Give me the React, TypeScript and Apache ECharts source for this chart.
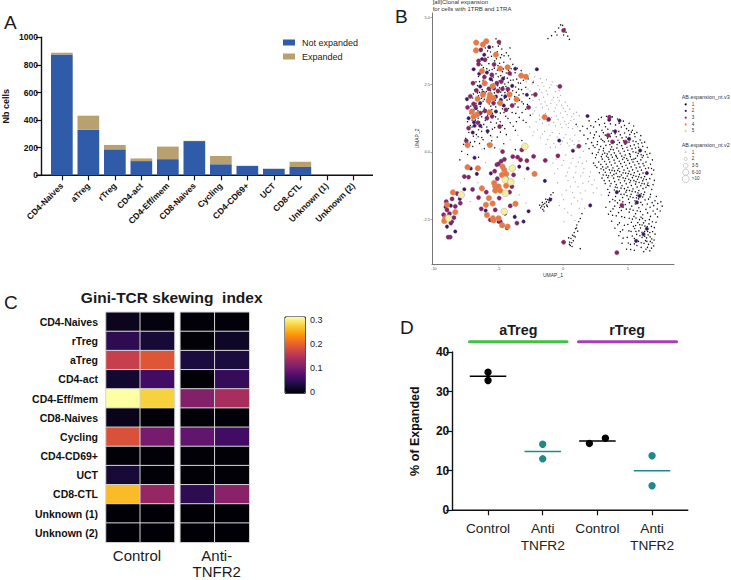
import React, { useEffect, useRef } from "react";
import * as echarts from "echarts";

const FONT = "'Liberation Sans', Arial, sans-serif";

// Panel A
const cellTypesA = ["CD4-Naives","aTreg","rTreg","CD4-act","CD4-Eff/mem","CD8-Naives","Cycling","CD4-CD69+","UCT","CD8-CTL","Unknown (1)","Unknown (2)"];
const notExpanded = [875,330,188,103,117,248,80,68,47,60,0,0];
const expanded = [13,102,32,19,91,2,60,2,1,38,0,0];

// Panel C
const cellTypesC = ["CD4-Naives","rTreg","aTreg","CD4-act","CD4-Eff/mem","CD8-Naives","Cycling","CD4-CD69+","UCT","CD8-CTL","Unknown (1)","Unknown (2)"];
const giniControl = [[0.015,0.005],[0.05,0.03],[0.17,0.195],[0.025,0.065],[0.32,0.285],[0.012,0.002],[0.19,0.105],[0.002,0.002],[0.03,0.002],[0.27,0.13],[0.001,0.001],[0.001,0.001]];
const giniAnti = [[0.003,0.003],[0.002,0.02],[0.035,0.035],[0.002,0.055],[0.115,0.145],[0.002,0.002],[0.09,0.065],[0.002,0.002],[0.002,0.002],[0.05,0.12],[0.001,0.001],[0.001,0.001]];
const inferno = ["#000004","#1b0c41","#4a0c6b","#781c6d","#a52c60","#cf4446","#ed6925","#fb9b06","#f7d13d","#fcffa4"];
const colorbarTicks = [0,0.1,0.2,0.3];

// Panel D
const groupsD = ["Control","Anti\nTNFR2","Control","Anti\nTNFR2"];
const dControl = [[0,34.9],[0,32.8]];
const dControlLeft = [[2,16.9]];
const dControlRight = [[2,18.2]];
const dAnti = [[1,16.7],[1,13],[3,13.8],[3,6.2]];
const dControlMean = [[0,33.9],[2,17.5]];
const dAntiMean = [[1,14.85],[3,10]];

// Panel B, UMAP coordinates, by clone-size class
const umap5 = [[-2.96,0.2],[-3.94,-0.61],[-4.48,-1.04],[-4.05,-1.12],[-4.48,-1.54],[-7.89,-1.6],[-4.56,-2.22],[-8.87,-2.47]];
const umap4 = [[-6.73,4.06],[-5.95,4.11],[-6.21,3.99],[-6.75,3.77],[-5.21,3.61],[-6.29,3.0],[-4.87,3.09],[-4.30,3.14],[-3.25,2.83],[-2.89,2.79],[-6.08,2.55],[-5.44,2.43],[-6.21,2.12],[-5.67,2.12],[-6.62,1.97],[-5.70,2.0],[-5.39,2.0],[-5.77,1.90],[-4.87,1.81],[-4.15,2.13],[-3.61,1.95],[-7.06,1.5],[-6.68,1.38],[-6.93,1.31],[-5.70,1.47],[-1.44,1.29],[-7.40,0.25],[-5.67,0.25],[-7.40,-0.57],[-6.60,-0.61],[-4.69,-0.55],[-4.56,-0.67],[-4.74,-0.86],[-4.41,-0.82],[-2.22,-0.82],[-5.34,-1.16],[-5.26,-1.29],[-5.26,-1.44],[-5.0,-1.29],[-4.41,-1.26],[-6.29,-1.36],[-4.87,-1.44],[-5.75,-1.72],[-5.98,-1.97],[-5.46,-1.92],[-3.69,-1.93],[-8.53,-1.51],[-8.99,-1.97],[-8.35,-2.24],[-9.2,-2.57],[-9.12,-2.47],[-5.9,-2.35],[-5.44,-2.47],[-5.39,-2.55],[-5.0,-2.47],[-4.72,-2.73],[-4.30,-2.78]];
const umap3 = [[0.03,4.51],[-4.97,4.08],[-6.37,3.79],[-6.55,3.38],[-6.55,3.26],[-0.26,2.43],[-6.98,2.55],[-7.19,2.06],[-7.40,1.65],[-6.80,1.69],[-5.9,1.25],[-7.32,0.88],[-4.92,0.94],[-7.5,0.41],[-1.13,1.21],[3.58,1.29],[3.48,0.61],[3.81,0.37],[4.82,0.36],[1.21,0.21],[-3.2,0.07],[-2.16,2.13],[-2.68,1.65],[-4.43,1.56],[-4.28,2.33],[-4.79,2.61],[-5.13,2.55],[-4.15,2.92],[-5.52,2.86],[-6.42,1.44],[-6.93,1.78],[-5.39,1.81],[-4.69,0.01],[-3.53,-0.2],[-2.81,-0.33],[-2.29,-0.17],[-1.39,-0.32],[-0.41,-0.15],[-5.13,-0.48],[-7.65,-0.92],[-7.32,-0.94],[-7.01,-1.4],[-5.95,-1.5],[-3.84,-0.86],[-3.97,-1.29],[-7.96,-1.91],[-8.35,-2.03],[-8.99,-2.16],[-9.25,-2.34],[-8.69,-2.65],[-8.74,-3.17],[-6.34,-2.12],[-5.26,-2.16],[-4.1,-2.01],[-5.64,-2.53],[-4.87,-2.59],[-3.58,-2.65],[0.03,-3.36],[4.54,-1.99],[4.15,-3.75],[-5.0,-0.45],[-4.8,-0.35],[-4.4,-1.0],[-5.1,-1.0],[-4.0,-1.1],[-3.3,-0.3],[-8.6,-1.75],[-8.8,-2.3],[-8.9,-3.17],[-6.1,2.78],[-5.75,2.34],[-5.05,2.26],[-6.72,2.28],[-6.05,1.52],[-5.5,1.32],[-6.6,1.08],[-4.7,2.34],[-3.95,1.72],[-6.05,3.42],[-5.35,3.25],[-4.55,-0.28],[-3.9,-0.18],[-5.3,-0.72],[-4.15,-1.5],[-8.2,-1.55],[-9.05,-1.85],[-8.45,-2.45],[-6.55,-1.7],[-4.95,-1.72]];
const umap2 = [[-6.11,3.61],[-5.72,3.89],[-6.93,3.07],[-3.71,3.09],[-2.04,3.07],[-6.42,2.43],[-7.45,1.96],[-6.42,1.81],[-7.32,1.25],[-4.82,1.93],[-4.48,2.06],[-2.81,2.12],[-6.42,0.97],[-6.86,0.97],[-5.85,0.77],[-0.31,0.42],[1.88,1.33],[4.02,0.76],[5.10,0.48],[3.56,1.19],[4.36,1.16],[-6.86,-0.22],[0.75,0.04],[-6.68,-0.82],[-7.65,-1.39],[-1.42,-1.08],[-1.01,-1.78],[2.09,-1.99],[4.15,-1.5],[5.70,-1.88],[5.9,-1.64],[6.47,-0.79],[6.47,-2.86],[6.21,-3.06],[5.64,-3.31],[-2.68,-2.21],[-3.07,-2.59],[-8.35,-2.96],[-8.99,-2.78],[-4.36,-2.84],[5.95,0.05],[-6.5,2.9],[-5.6,2.7],[-6.2,2.2],[-5.2,2.05],[-6.9,1.1],[-5.2,1.5],[-8.7,-2.0],[-8.0,-1.75],[-8.6,-2.6],[-5.0,-2.6],[-4.5,-2.3],[-6.28,3.45],[-5.9,2.95],[-4.65,2.72],[-3.95,2.45],[-5.35,2.36],[-6.75,1.62],[-4.6,1.72],[-7.0,0.72],[-3.4,-0.55],[-2.75,-0.62],[-5.6,-0.8],[-7.15,-0.62],[-6.0,-2.18],[-3.75,-2.42],[-9.1,-2.05]];
const umap1Flat = [
-1.18,4.21,-0.9,4.32,-0.62,4.46,-0.35,4.6,-0.2,4.72,-0.05,4.7,0.12,4.58,0.22,4.44,0.35,4.3,0.48,4.18,
-5.2,4.2,-4.9,4.0,-5.45,3.9,-4.75,3.82,-5.85,3.75,-5.1,3.72,-4.4,3.68,-5.55,3.55,-4.85,3.5,-6.0,3.46,-4.1,3.45,-5.3,3.38,-4.6,3.33,-5.75,3.28,-3.9,3.25,-5.05,3.2,-4.45,3.15,-6.3,3.22,-3.55,3.1,-5.5,3.06,-4.7,2.98,-5.95,2.94,-3.25,3.02,-5.2,2.9,-4.05,2.86,-6.55,2.8,-4.55,2.78,-5.7,2.73,-3.6,2.7,-6.2,2.66,-4.95,2.64,-4.25,2.58,-6.75,2.6,-3.3,2.55,-5.4,2.52,-3.9,2.47,-6.4,2.44,-4.65,2.42,-5.85,2.36,-2.9,2.4,-3.45,2.33,-6.85,2.3,-5.1,2.28,-4.3,2.24,-6.05,2.18,-3.1,2.16,-4.75,2.1,-6.55,2.08,-3.75,2.05,-5.5,2.0,-7.0,2.0,-2.6,1.98,-4.35,1.92,-6.2,1.88,-3.2,1.86,-5.05,1.82,-6.75,1.8,-4.0,1.76,-5.6,1.7,-7.15,1.7,-3.5,1.66,-6.1,1.62,-4.7,1.6,-2.9,1.58,-6.6,1.52,-5.3,1.5,-3.95,1.46,-7.2,1.42,-5.85,1.36,-4.45,1.32,-6.3,1.3,-3.4,1.28,-5.05,1.22,-6.8,1.18,-7.4,1.12,-5.6,1.1,-4.1,1.08,-6.15,1.02,-4.7,0.98,-7.05,0.92,-5.3,0.9,-6.55,0.82,-3.7,0.8,-7.3,0.72,-5.85,0.7,-4.4,0.64,-6.95,0.58,-5.1,0.55,-7.55,0.5,-6.2,0.45,-3.2,0.42,-7.7,0.28,-4.6,0.3,-7.0,0.2,-6.1,0.12,-5.3,0.15,-7.85,0.02,-3.7,0.08,-7.4,-0.1,-6.55,-0.2,-8.0,-0.3,
-5.62,3.71,-5.02,3.93,-4.58,3.57,-5.91,3.09,-5.33,3.11,-4.92,3.29,-4.23,3.03,-6.12,2.83,-5.57,2.91,-4.83,2.83,-4.41,2.93,-6.47,2.61,-5.21,2.59,-5.61,2.47,-4.07,2.66,-4.52,2.52,-6.63,2.19,-6.27,2.31,-4.93,2.38,-3.68,2.41,-5.32,2.19,-4.12,2.18,-3.42,2.11,-5.83,2.03,-6.33,1.99,-4.55,1.99,-5.22,1.67,-4.86,1.44,-6.92,1.56,-6.42,1.68,-5.52,1.57,-4.23,1.61,-3.08,1.78,-6.47,1.11,-5.17,1.07,-5.91,0.92,-4.86,0.73,-6.72,0.64,-6.31,0.76,-5.53,0.41,-7.18,0.35,-6.47,0.31,
-0.48,4.34,0.03,4.34,-4.12,3.86,-3.33,2.87,-3.08,2.66,-2.72,2.71,-2.33,2.58,-2.42,2.12,-2.77,1.76,-3.18,1.46,-3.62,1.12,-2.88,1.09,-2.55,1.36,
1.0,1.02,1.5,0.95,2.0,1.15,2.5,1.12,2.95,1.28,3.35,1.32,3.8,1.3,4.2,1.22,4.65,1.14,5.1,1.06,5.45,0.96,1.3,0.78,1.85,0.86,2.35,0.92,2.8,1.0,3.2,1.06,3.65,1.04,4.05,1.0,4.5,0.92,4.9,0.86,5.35,0.8,5.7,0.72,6.0,0.6,1.6,0.62,2.1,0.7,2.55,0.74,3.0,0.8,3.45,0.84,3.85,0.78,4.3,0.76,4.75,0.7,5.15,0.64,5.55,0.56,5.95,0.44,6.3,0.36,1.9,0.48,2.35,0.52,2.8,0.58,3.25,0.62,3.65,0.56,4.1,0.56,4.55,0.52,5.0,0.48,5.4,0.4,5.8,0.3,6.15,0.2,6.5,0.16,1.75,0.3,2.2,0.34,2.65,0.38,3.05,0.42,3.5,0.4,3.95,0.36,4.35,0.34,4.8,0.28,5.2,0.22,5.6,0.14,6.0,0.06,6.35,0.0,6.7,-0.06,2.0,0.12,2.45,0.16,2.9,0.2,3.3,0.24,3.75,0.18,4.15,0.14,4.6,0.12,5.0,0.06,5.4,0.0,5.8,-0.06,6.2,-0.14,6.55,-0.2,6.9,-0.3,2.25,-0.06,2.7,-0.02,3.1,0.04,3.55,0.0,3.95,-0.04,4.4,-0.06,4.8,-0.12,5.2,-0.18,5.6,-0.24,6.0,-0.3,6.4,-0.38,6.75,-0.46,2.5,-0.22,2.95,-0.18,3.35,-0.16,3.8,-0.2,4.2,-0.24,4.6,-0.28,5.0,-0.32,5.4,-0.38,5.85,-0.44,6.25,-0.52,6.6,-0.6,7.0,-0.68,2.35,-0.42,2.75,-0.38,3.2,-0.36,3.6,-0.38,4.0,-0.42,4.45,-0.44,4.85,-0.5,5.25,-0.56,5.65,-0.6,6.05,-0.68,6.45,-0.76,6.85,-0.84,2.6,-0.58,3.05,-0.56,3.45,-0.56,3.85,-0.6,4.3,-0.62,4.7,-0.68,5.1,-0.72,5.5,-0.78,5.9,-0.84,6.3,-0.92,6.7,-1.0,7.05,-1.06,2.8,-0.78,3.25,-0.76,3.65,-0.78,4.1,-0.8,4.5,-0.86,4.95,-0.9,5.35,-0.96,5.75,-1.02,6.15,-1.08,6.55,-1.16,6.95,-1.22,3.0,-0.98,3.45,-0.96,3.9,-0.98,4.3,-1.04,4.75,-1.08,5.15,-1.14,5.6,-1.2,6.0,-1.26,6.4,-1.32,6.85,-1.4,3.25,-1.18,3.7,-1.18,4.1,-1.22,4.55,-1.26,5.0,-1.32,5.4,-1.38,5.85,-1.44,6.3,-1.5,6.75,-1.58,7.2,-1.66,3.45,-1.4,3.95,-1.42,4.35,-1.46,4.85,-1.5,5.25,-1.58,5.7,-1.62,6.15,-1.68,6.6,-1.76,7.1,-1.82,7.55,-1.86,3.5,-1.62,4.05,-1.66,4.6,-1.7,5.05,-1.76,5.55,-1.82,6.0,-1.88,6.5,-1.94,7.0,-2.0,7.65,-2.02,3.6,-1.86,4.2,-1.9,4.8,-1.96,5.3,-2.02,5.85,-2.08,6.4,-2.14,6.95,-2.2,7.5,-2.2,3.3,-2.06,3.85,-2.12,4.5,-2.18,5.1,-2.24,5.6,-2.3,6.15,-2.34,6.75,-2.4,7.3,-2.42,3.5,-2.32,4.1,-2.38,4.75,-2.44,5.35,-2.5,5.9,-2.52,6.35,-2.56,6.9,-2.6,3.75,-2.58,4.35,-2.64,5.0,-2.7,5.6,-2.74,6.1,-2.72,6.5,-2.78,7.05,-2.82,4.0,-2.84,4.6,-2.9,5.25,-2.96,5.85,-2.94,6.3,-2.96,6.7,-3.0,7.1,-3.06,4.3,-3.12,4.95,-3.18,5.5,-3.22,6.1,-3.18,6.45,-3.2,6.85,-3.24,4.55,-3.4,5.2,-3.44,5.7,-3.48,6.25,-3.4,6.6,-3.44,7.0,-3.5,4.9,-3.62,5.5,-3.66,6.4,-3.62,6.7,-3.68,
3.27,0.93,3.72,0.69,4.41,0.63,4.87,0.55,5.27,0.73,5.63,0.38,4.23,0.43,3.43,0.51,2.63,0.27,3.12,0.13,3.87,0.08,4.52,0.23,4.93,0.17,5.32,0.11,5.74,-0.15,3.41,-0.08,4.07,-0.13,4.71,-0.21,5.12,-0.07,5.47,-0.27,6.11,-0.21,3.02,-0.27,3.53,-0.28,3.93,-0.31,4.33,-0.35,4.74,-0.39,5.13,-0.43,5.53,-0.49,5.93,-0.57,6.37,-0.62,2.91,-0.47,3.33,-0.46,3.73,-0.49,4.17,-0.53,4.57,-0.55,4.97,-0.61,5.37,-0.67,5.77,-0.72,6.17,-0.79,3.13,-0.67,3.57,-0.67,3.97,-0.71,4.37,-0.74,4.83,-0.79,5.23,-0.84,5.63,-0.91,6.03,-0.96,6.43,-1.03,3.34,-0.87,3.78,-0.89,4.22,-0.92,4.63,-0.97,5.07,-1.02,5.47,-1.07,5.87,-1.14,6.27,-1.19,3.57,-1.08,3.98,-1.11,4.42,-1.15,4.87,-1.19,5.27,-1.25,5.72,-1.31,6.17,-1.37,4.17,-1.33,4.73,-1.37,5.13,-1.44,5.57,-1.49,6.03,-1.56,4.47,-1.58,4.93,-1.63,5.4,-1.7,5.83,-1.75,3.83,-1.77,4.37,-1.8,4.63,-2.06,5.17,-2.13,5.72,-2.19,3.67,-2.21,4.28,-2.26,5.47,-2.4,6.02,-2.43,5.27,-2.62,5.77,-2.63,6.22,-2.64,6.63,-2.68,5.53,-2.85,5.98,-2.83,6.43,-2.87,5.68,-3.07,6.2,-3.07,6.57,-3.09,5.82,-3.33,6.37,-3.3,6.73,-3.33,
-0.78,-1.52,-0.95,-1.6,-1.05,-1.72,-1.2,-1.78,-1.3,-1.86,-1.42,-1.92,-1.55,-1.96,-1.66,-2.02,-1.74,-2.08,-1.58,-2.14,-1.46,-2.05,-1.28,-1.98,-1.12,-1.88,-0.9,-1.74,-1.5,-2.2,-1.35,-1.76,-1.62,-1.88,-1.82,-1.98,-1.23,-2.03,
1.45,-2.3,1.32,-2.48,1.2,-2.6,1.05,-2.72,0.95,-2.86,0.85,-3.0,0.72,-3.1,0.6,-3.22,0.5,-3.36,0.55,-3.48,0.68,-3.52,0.78,-3.3,0.92,-3.16,1.12,-2.95,0.42,-3.2,1.32,-3.6,0.66,-3.38,0.83,-3.13,1.03,-2.83,0.48,-3.44
];
const umap1Extra = [
2.14,0.97,2.73,1.21,3.11,0.71,3.58,1.17,4.33,1.06,4.74,0.98,5.06,0.79,5.51,0.67,5.83,0.17,2.42,0.63,2.93,0.47,3.17,0.37,3.61,0.27,4.02,0.67,4.17,0.27,4.66,0.41,5.09,0.36,5.49,0.26,6.08,0.33,2.32,0.23,2.77,0.08,3.21,-0.05,3.67,0.09,4.29,0.03,4.72,0.02,5.17,-0.1,5.62,-0.02,6.03,-0.11,6.47,-0.1,2.57,-0.11,3.03,-0.09,3.47,-0.21,3.71,-0.11,4.11,-0.18,4.52,-0.16,4.91,-0.25,5.31,-0.29,5.73,-0.36,6.17,-0.44,6.83,-0.62,2.47,-0.51,2.92,-0.63,3.31,-0.61,3.77,-0.69,4.21,-0.69,4.63,-0.78,5.03,-0.81,5.44,-0.88,5.83,-0.93,6.21,-1.01,6.62,-1.26,3.09,-0.86,3.51,-0.89,3.92,-0.84,4.38,-0.93,4.82,-0.99,5.21,-1.07,5.63,-1.11,6.09,-1.18,6.51,-1.24,3.17,-1.07,3.62,-1.27,4.03,-1.31,4.47,-1.35,4.91,-1.43,5.33,-1.47,5.78,-1.53,6.23,-1.59,6.71,-1.68,3.58,-1.51,4.12,-1.54,4.71,-1.58,5.18,-1.67,5.66,-1.71,6.33,-1.79,6.88,-1.89,7.31,-1.92,4.01,-1.82,4.61,-1.86,5.12,-1.89,5.57,-1.94,6.13,-1.97,6.72,-2.06,7.27,-2.13,3.98,-2.02,4.37,-2.07,4.88,-2.13,5.41,-2.17,5.97,-2.22,6.53,-2.27,7.12,-2.31,3.82,-2.36,4.53,-2.41,5.11,-2.47,5.63,-2.46,6.14,-2.48,6.66,-2.52,7.18,-2.62,4.22,-2.71,4.73,-2.73,5.43,-2.77,5.92,-2.71,6.32,-2.76,6.83,-2.77,4.42,-2.97,5.08,-2.94,5.62,-2.96,6.09,-2.99,6.53,-2.96,6.92,-2.97,4.63,-3.21,5.34,-3.13,5.93,-3.12,6.31,-3.14,6.72,-3.16,7.03,-3.28,5.03,-3.39,5.51,-3.42,6.03,-3.38,6.47,-3.33,6.87,-3.38,5.22,-3.63,6.03,-3.55,6.52,-3.55,6.83,-3.58,6.23,-3.71,
-6.03,3.86,-5.32,3.62,-4.76,3.61,-4.23,3.57,-5.82,3.51,-5.17,3.46,-6.17,3.13,-5.72,3.03,-5.09,3.04,-4.62,3.08,-4.03,3.09,-3.72,2.94,-6.37,2.94,-5.41,2.78,-5.03,2.79,-4.33,2.74,-3.87,2.67,-3.47,2.56,-6.63,2.46,-5.93,2.57,-5.47,2.64,-5.07,2.46,-4.43,2.43,-3.63,2.21,-3.22,2.31,-6.47,2.21,-5.95,2.24,-5.62,2.27,-4.83,2.22,-4.51,2.2,-3.91,2.27,-6.95,2.15,-6.1,1.95,-5.25,1.92,-4.15,1.96,-3.38,1.92,-6.52,1.77,-5.73,1.78,-4.76,1.78,-3.73,1.78,-7.03,1.77,-6.23,1.49,-5.47,1.43,-4.58,1.46,-3.67,1.43,-3.1,1.17,-6.58,1.25,-5.23,1.3,-4.27,1.24,-7.05,1.18,-6.03,1.17,-4.87,1.12,-3.87,0.95,-7.18,0.98,-6.3,0.91,-5.48,0.84,-4.52,0.86,-6.58,0.56,-5.62,0.6,-6.85,0.38,-6.3,0.53,-7.42,0.36,-5.85,0.28
];
const umapFaintFlat = [
-2.6,2.9,-2.2,2.78,-1.75,2.72,-1.3,2.68,-0.85,2.6,-0.5,2.46,-2.85,2.6,-2.4,2.52,-1.95,2.46,-1.5,2.44,-1.05,2.38,-0.6,2.24,-0.2,2.1,-2.55,2.26,-2.1,2.2,-1.65,2.2,-1.2,2.14,-0.75,2.02,-0.3,1.9,0.15,1.84,-2.35,1.92,-1.85,1.94,-1.4,1.86,-0.95,1.8,-0.5,1.74,0.0,1.62,0.5,1.58,-2.1,1.66,-1.6,1.64,-1.15,1.58,-0.7,1.5,-0.2,1.44,0.3,1.38,0.8,1.42,1.25,1.34,-2.35,1.42,-1.85,1.36,-0.9,1.28,-0.4,1.2,0.1,1.14,0.6,1.16,-2.1,1.12,-1.6,1.06,-1.1,1.0,-0.6,0.96,-0.1,0.9,0.4,0.9,0.9,0.62,-2.6,0.92,-2.0,0.82,-1.45,0.76,-0.85,0.72,-0.3,0.68,0.2,0.64,0.7,0.4,1.2,0.4,-2.35,0.6,-1.75,0.52,-1.2,0.46,-0.6,0.18,-0.05,0.4,0.45,0.22,1.0,0.14,1.55,0.02,-1.0,0.16,-0.3,-0.1,0.2,-0.12,0.75,-0.25,1.3,-0.2,1.8,-0.35,-0.8,-0.42,-0.1,-0.5,0.45,-0.6,1.0,-0.55,1.6,-0.62,2.1,-0.75,-0.65,-0.8,0.2,-0.9,0.8,-0.95,1.35,-0.9,1.95,-1.1,2.4,-1.05,-0.45,-1.15,0.55,-1.3,1.15,-1.3,1.7,-1.45,2.6,-1.35,-0.1,-1.6,0.85,-1.7,1.45,-1.75,2.95,-1.6,-0.3,-2.0,0.35,-2.25,1.25,-2.1,1.65,-2.1,0.05,-2.6,0.9,-2.55,-6.7,0.5,-6.3,0.1,-5.5,0.55,-4.9,0.1,-4.1,0.45,-3.5,0.62,-2.9,0.3,-6.0,-0.4,-3.0,-1.0,-3.4,-1.6,-2.9,-1.9,-6.6,-1.15,-7.2,-1.85,-3.7,-2.35,-7.95,-1.15,-7.5,-0.6,
-2.31,2.63,-1.62,2.57,-0.93,2.49,-0.32,2.28,-2.72,2.33,-1.83,2.31,-1.31,2.27,-0.42,2.03,-2.22,2.04,-1.52,2.03,-0.87,1.93,-0.12,1.73,0.32,1.71,-1.72,1.78,-1.26,1.72,-0.62,1.63,0.17,1.5,0.67,1.31,1.03,1.47,-2.22,1.52,-1.37,1.43,-0.53,1.33,-0.03,1.27,0.42,1.06,0.83,1.21,-1.82,1.2,-1.27,1.13,-0.73,1.09,-0.22,1.03,0.22,1.01,0.73,0.87,1.12,0.93,-2.27,0.74,-1.63,0.66,-1.02,0.6,-0.47,0.55,0.05,0.52,0.52,0.47,-1.33,0.28,-0.72,0.31,-0.22,0.28,0.32,0.33,0.83,0.27,1.37,0.21,-0.55,-0.27,0.03,-0.32,0.62,-0.42,1.17,-0.38,1.47,-0.43,-0.42,-0.63,0.32,-0.76,0.97,-0.77,1.52,-0.78,2.03,-0.92,0.37,-1.07,0.93,-1.12,1.52,-1.17,2.23,-1.22,0.23,-1.43,0.73,-1.52,1.32,-1.53,2.32,-1.52,0.02,-1.78,0.63,-1.93,1.12,-1.83,0.12,-2.12,0.62,-2.37
];
const toPairs = (flat: number[]) => { const r: number[][] = []; for (let i = 0; i < flat.length; i += 2) r.push([flat[i], flat[i + 1]]); return r; };

const txt = (text: string, x: number, y: number, size: number, opts: any = {}) => ({
  type: "text", x, y, rotation: opts.rotation || 0, silent: true,
  style: { text, font: `${opts.weight || "normal"} ${size}px ${FONT}`, fill: opts.fill || "#1a1a1a", textAlign: opts.align || "left", textVerticalAlign: "middle", lineHeight: opts.lineHeight },
});
const hline = (x1: number, x2: number, y: number, stroke: string, lineWidth: number, cap = "butt") => ({ type: "line", silent: true, shape: { x1, y1: y, x2, y2: y }, style: { stroke, lineWidth, lineCap: cap } });

const legendV3 = [["1","#000004"],["2","#3f0f72"],["3","#8f1f6a"],["4","#f2763c"],["5","#f5f0a0"]];
const legendV2 = [["1",0.6],["2",1.6],["3-5",2.4],["6-10",3],[">10",3.6]];

function buildOption() {
  const ax = { color: "#111", fontFamily: FONT };
  const heat = (rows: number[][]) => rows.flatMap((r, y) => r.map((v, x) => [x, y, v]));
  const graphic: any[] = [
    txt("A", 4, 22, 19), txt("B", 395, 16, 19), txt("C", 4, 302, 19), txt("D", 400, 327, 19),
    hline(38, 373, 175.3, "#111", 1.4),
    hline(452.3, 688.3, 510.3, "#111", 1.4),
    txt("[all]Clonal expansion\nfor cells with 1TRB and 1TRA", 432.7, 5.5, 6, { fill: "#333", lineHeight: 6.5 }),
    txt("Gini-TCR skewing  index", 171.7, 297, 15.5, { weight: "bold", align: "center" }),
    txt("Control", 137, 555.5, 15, { align: "center" }),
    txt("Anti-", 216.7, 555.5, 15, { align: "center" }),
    txt("TNFR2", 216.7, 571.5, 15, { align: "center" }),
    txt("aTreg", 518.3, 330, 14.3, { weight: "bold", align: "center" }),
    txt("rTreg", 627, 330, 14.3, { weight: "bold", align: "center" }),
    hline(469.5, 567, 341.7, "#3fc23f", 3, "round"),
    hline(578.5, 676.5, 341.7, "#a83fb8", 3, "round"),
    { type: "rect", silent: true, shape: { x: 285, y: 317, width: 20.3, height: 76.3 }, style: { fill: "none", stroke: "#111", lineWidth: 1 } },
    txt("AB.expansion_nt.v3", 681.7, 97, 5.4, { fill: "#333" }),
    txt("AB.expansion_nt.v2", 681.7, 145, 5.4, { fill: "#333" }),
  ];
  colorbarTicks.forEach((t) => {
    const y = 392.3 - t * 240;
    graphic.push({ type: "line", silent: true, shape: { x1: 305, y1: y, x2: 302.5, y2: y }, style: { stroke: "#111", lineWidth: 0.8 } });
    graphic.push({ type: "line", silent: true, shape: { x1: 285, y1: y, x2: 287.5, y2: y }, style: { stroke: "#111", lineWidth: 0.8 } });
    graphic.push(txt(t === 0 ? "0" : t.toFixed(1), 310, y, 9));
  });
  legendV3.forEach(([label, color], i) => {
    const y = 104.3 + i * 6.67;
    graphic.push({ type: "circle", silent: true, shape: { cx: 685.7, cy: y, r: 1 }, style: { fill: color, stroke: i === 4 ? "#bbb" : undefined, lineWidth: 0.3 } });
    graphic.push(txt(label, 691.7, y, 4.6, { fill: "#333" }));
  });
  legendV2.forEach(([label, r], i) => {
    const y = 152.3 + i * 6.67;
    graphic.push({ type: "circle", silent: true, shape: { cx: 685.7, cy: y, r }, style: { fill: "#fff", stroke: "#aaa", lineWidth: 0.6 } });
    graphic.push(txt(label as string, 691.7, y, 4.6, { fill: "#333" }));
  });

  const umapSeries = (name: string, data: number[][], size: number, color: string, border?: string) => ({
    name, type: "scatter", xAxisIndex: 1, yAxisIndex: 1, data, symbolSize: size, silent: true,
    itemStyle: { color, opacity: 1, borderColor: border, borderWidth: border ? 0.4 : 0 },
  });

  return {
    animation: false,
    backgroundColor: "#fff",
    textStyle: { fontFamily: FONT },
    legend: {
      left: 283, top: 38, padding: 0, itemWidth: 12, itemHeight: 6, itemGap: 5, orient: "vertical", selectedMode: false, icon: "rect",
      textStyle: { fontSize: 9, color: "#222", fontFamily: FONT, padding: [0, 0, 0, 2] },
      data: ["Not expanded", "Expanded"],
    },
    grid: [
      { left: 45.6, width: 321, top: 37.3, height: 138 },
      { left: 432, width: 242, top: 13, height: 251 },
      { left: 106, width: 68.5, top: 312.3, height: 230 },
      { left: 180.3, width: 69, top: 312.3, height: 230 },
      { left: 460.7, width: 218.7, top: 352, height: 158.3 },
    ],
    xAxis: [
      { gridIndex: 0, type: "category", data: cellTypesA, axisLine: { show: false }, axisTick: { show: true, alignWithLabel: true, length: 5, lineStyle: { color: "#111", width: 1.2 } },
        axisLabel: { ...ax, interval: 0, rotate: 45, fontSize: 8.6, fontWeight: "bold", margin: 9 } },
      { gridIndex: 1, type: "value", min: -10.15, max: 8.57, splitLine: { show: false }, axisLine: { onZero: false, lineStyle: { color: "#777", width: 1 } },
        axisTick: { show: true, length: 1.5, customValues: [-10, -5, 0, 5], lineStyle: { color: "#777", width: 0.6 } },
        axisLabel: { customValues: [-10, -5, 0, 5], fontSize: 4, color: "#555", margin: 2, fontFamily: FONT },
        name: "UMAP_1", nameLocation: "middle", nameGap: 8, nameTextStyle: { fontSize: 5, color: "#333", fontFamily: FONT } },
      { gridIndex: 2, type: "category", show: false, data: ["1", "2"] },
      { gridIndex: 3, type: "category", show: false, data: ["1", "2"] },
      { gridIndex: 4, type: "category", data: groupsD, axisLine: { show: false }, axisTick: { show: true, alignWithLabel: true, length: 5, lineStyle: { color: "#111", width: 1.2 } },
        axisLabel: { color: "#222", fontFamily: FONT, interval: 0, fontSize: 13.7, lineHeight: 16.7, margin: 10 } },
    ],
    yAxis: [
      { gridIndex: 0, type: "value", min: 0, max: 1000, interval: 200, offset: 7.6, splitLine: { show: false }, axisLine: { show: true, lineStyle: { color: "#111", width: 1.4 } },
        axisTick: { show: true, length: 5, lineStyle: { color: "#111", width: 1.2 } },
        axisLabel: { ...ax, fontSize: 8.6, fontWeight: "bold", margin: 3, formatter: (v: number) => String(v) },
        name: "Nb cells", nameLocation: "middle", nameGap: 31, nameTextStyle: { fontSize: 9, fontWeight: "bold", color: "#111", fontFamily: FONT } },
      { gridIndex: 1, type: "value", min: -4.17, max: 5.16, splitLine: { show: false }, axisLine: { show: true, onZero: false, lineStyle: { color: "#777", width: 1 } },
        axisTick: { show: true, length: 1.5, customValues: [-2.5, 0, 2.5, 5], lineStyle: { color: "#777", width: 0.6 } },
        axisLabel: { customValues: [-2.5, 0, 2.5, 5], formatter: (v: number) => v.toFixed(1), fontSize: 4, color: "#555", margin: 2, fontFamily: FONT },
        name: "UMAP_2", nameLocation: "middle", nameGap: 13, nameTextStyle: { fontSize: 5, color: "#333", fontFamily: FONT } },
      { gridIndex: 2, type: "category", inverse: true, data: cellTypesC, axisLine: { show: false }, axisTick: { show: false },
        axisLabel: { ...ax, interval: 0, fontSize: 10.5, fontWeight: "bold", margin: 8 } },
      { gridIndex: 3, type: "category", inverse: true, show: false, data: cellTypesC },
      { gridIndex: 4, type: "value", min: 0, max: 40, interval: 10, offset: 8.4, splitLine: { show: false }, axisLine: { show: true, lineStyle: { color: "#111", width: 1.4 } },
        axisTick: { show: true, length: 6, lineStyle: { color: "#111", width: 1.2 } },
        axisLabel: { ...ax, fontSize: 12, fontWeight: "bold", margin: 3 },
        name: "% of Expanded", nameLocation: "middle", nameGap: 31, nameTextStyle: { fontSize: 12.5, fontWeight: "bold", color: "#111", fontFamily: FONT } },
    ],
    visualMap: {
      type: "continuous", min: 0, max: 0.32, seriesIndex: [2, 3], left: 285, top: 317, padding: 0, itemWidth: 20.3, itemHeight: 76.3,
      calculable: false, hoverLink: false, inRange: { color: inferno }, textStyle: { fontSize: 1, color: "rgba(0,0,0,0)" }, text: ["", ""], textGap: 0,
    },
    series: [
      { name: "Not expanded", type: "bar", stack: "a", barWidth: 21.7, data: notExpanded, itemStyle: { color: "#2f5ba8" }, silent: true },
      { name: "Expanded", type: "bar", stack: "a", barWidth: 21.7, data: expanded, itemStyle: { color: "#b9a06f" }, silent: true },
      { type: "heatmap", xAxisIndex: 2, yAxisIndex: 2, data: heat(giniControl), silent: true, itemStyle: { borderColor: "#d4d4d4", borderWidth: 1 } },
      { type: "heatmap", xAxisIndex: 3, yAxisIndex: 3, data: heat(giniAnti), silent: true, itemStyle: { borderColor: "#d4d4d4", borderWidth: 1 } },
      umapSeries("faint", toPairs(umapFaintFlat), 1.2, "#aaaaaa"),
      umapSeries("1", toPairs(umap1Flat).concat(toPairs(umap1Extra)), 1.4, "#111111"),
      umapSeries("2", umap2, 3.6, "#3f0f72", "#666"),
      umapSeries("3", umap3, 4.3, "#8f1f6a", "#666"),
      umapSeries("4", umap4, 5.6, "#f2763c", "#999"),
      umapSeries("5", umap5, 6.8, "#f5f0a0", "#999"),
      { name: "Control", type: "scatter", xAxisIndex: 4, yAxisIndex: 4, data: dControl, symbolSize: 7.4, itemStyle: { color: "#000", opacity: 1 }, silent: true },
      { name: "Control left", type: "scatter", xAxisIndex: 4, yAxisIndex: 4, data: dControlLeft, symbolSize: 7.4, symbolOffset: [-8, 0], itemStyle: { color: "#000", opacity: 1 }, silent: true },
      { name: "Control right", type: "scatter", xAxisIndex: 4, yAxisIndex: 4, data: dControlRight, symbolSize: 7.4, symbolOffset: [8, 0], itemStyle: { color: "#000", opacity: 1 }, silent: true },
      { name: "Anti", type: "scatter", xAxisIndex: 4, yAxisIndex: 4, data: dAnti, symbolSize: 7.4, itemStyle: { color: "#1f8a87", opacity: 1 }, silent: true },
      { name: "Control mean", type: "scatter", xAxisIndex: 4, yAxisIndex: 4, data: dControlMean, symbol: "rect", symbolSize: [36.5, 1.5], itemStyle: { color: "#000", opacity: 1 }, silent: true },
      { name: "Anti mean", type: "scatter", xAxisIndex: 4, yAxisIndex: 4, data: dAntiMean, symbol: "rect", symbolSize: [36.5, 1.5], itemStyle: { color: "#1f8a87", opacity: 1 }, silent: true },
    ],
    graphic,
  };
}

export default function App() {
  const ref = useRef<HTMLDivElement>(null);
  useEffect(() => {
    const chart = echarts.init(ref.current!, undefined, { renderer: "svg" });
    chart.setOption(buildOption() as any);
    return () => chart.dispose();
  }, []);
  return <div ref={ref} style={{ position: "absolute", left: 0, top: 0, width: 731, height: 580 }} />;
}
